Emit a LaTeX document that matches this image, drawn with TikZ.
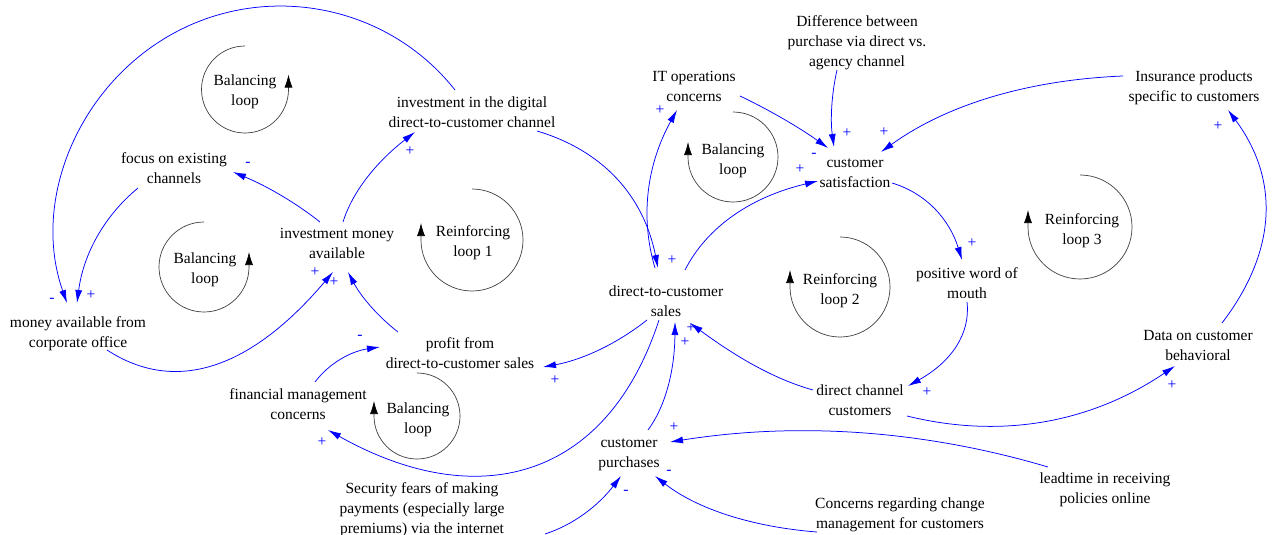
\documentclass[tikz,border=0pt]{standalone}
\usepackage{fontspec}
\setmainfont{Liberation Serif}
\usetikzlibrary{arrows.meta,calc}
\begin{document}
\begin{tikzpicture}[x=1pt,y=-1pt,
  txt/.style={align=center,inner sep=0pt,yshift=-2pt,font=\fontsize{15.5}{20}\selectfont,
    execute at begin node={\rule{0pt}{21pt}},execute at end node={\rule[-3pt]{0pt}{3pt}}},
  sgn/.style={text=blue,inner sep=0pt,font=\fontsize{15.5}{20}\selectfont},
  link/.style={draw=blue,line width=0.75pt,-{Latex[length=13pt,width=7pt]}},
  loopc/.style={draw=black!75,line width=0.7pt,-{Latex[length=13pt,width=8pt,color=black]}}]
\fill[white] (0,0) rectangle (1276,535);
\useasboundingbox (0,0) rectangle (1276,535);

% variables
\node[txt] (focus) at (174,168) {focus on existing\\channels};
\node[txt] (imoney) at (337,243) {investment money\\available};
\node[txt] (invest) at (472,112) {investment in the digital\\direct-to-customer channel};
\node[txt] (money) at (78,332) {money available from\\corporate office};
\node[txt] (profit) at (460,353) {profit from\\direct-to-customer sales};
\node[txt] (fin) at (298,404) {financial management\\concerns};
\node[txt] (sales) at (666,301) {direct-to-customer\\sales};
\node[txt] (itops) at (694,86) {IT operations\\concerns};
\node[txt] (diff) at (857,41) {Difference between\\purchase via direct vs.\\agency channel};
\node[txt] (csat) at (855,173) {customer\\satisfaction};
\node[txt] (insur) at (1194,86) {Insurance products\\specific to customers};
\node[txt] (wom) at (967,283) {positive word of\\mouth};
\node[txt] (dcc) at (860,400) {direct channel\\customers};
\node[txt] (data) at (1198,345) {Data on customer\\behavioral};
\node[txt] (purch) at (629,453) {customer\\purchases};
\node[txt] (secur) at (422,508) {Security fears of making\\payments (especially large\\premiums) via the internet};
\node[txt] (change) at (900,513) {Concerns regarding change\\management for customers};
\node[txt] (lead) at (1105,488) {leadtime in receiving\\policies online};

% loop labels
\node[txt] (bl1) at (245,90) {Balancing\\loop};
\node[txt] (bl2) at (205,268) {Balancing\\loop};
\node[txt] (r1) at (473,241) {Reinforcing\\loop 1};
\node[txt] (bl3) at (418,418) {Balancing\\loop};
\node[txt] (bl4) at (733,159) {Balancing\\loop};
\node[txt] (r2) at (840,289) {Reinforcing\\loop 2};
\node[txt] (r3) at (1082,229) {Reinforcing\\loop 3};

% loop circles
\draw[loopc] (245,46) arc[start angle=90,end angle=360,radius=43.5pt] -- ++(0,-15);
\draw[loopc] (204,222) arc[start angle=90,end angle=360,radius=45pt] -- ++(0,-15);
\draw[loopc] (472,189) arc[start angle=90,end angle=-180,radius=51pt] -- ++(0,-17);
\draw[loopc] (417,373) arc[start angle=90,end angle=-180,radius=43pt] -- ++(0,-15);
\draw[loopc] (733,112) arc[start angle=90,end angle=-180,radius=45pt] -- ++(0,-15);
\draw[loopc] (840,237) arc[start angle=90,end angle=-180,radius=50pt] -- ++(0,-17);
\draw[loopc] (1080,175) arc[start angle=90,end angle=-180,radius=52pt] -- ++(0,-17);

% connectors
\draw[link] ($(invest.center)+(65,17)$) .. controls (603.3,150.7) and (643.7,196.3) .. ($(sales.center)+(-8,-35)$);
\draw[link] ($(invest.center)+(-17,-24)$) .. controls (387.9,5) and (267.6,-18.6) .. (172.8,33.7) .. controls (78,86) and (31,201) .. ($(money.center)+(-11,-31)$);
\draw[link] ($(focus.center)+(-36,18)$) .. controls (103.7,216.3) and (83.3,254.7) .. ($(money.center)+(-1,-31)$);
\draw[link] ($(imoney.center)+(-17,-23)$) .. controls (295.7,202.7) and (266.7,186) .. ($(focus.center)+(59,2)$);
\draw[link] ($(imoney.center)+(6,-23)$) .. controls (352.3,192) and (376.3,162) .. ($(invest.center)+(-57,18)$);
\draw[link] ($(money.center)+(29,16)$) .. controls (175.7,394.7) and (251,368.7) .. ($(imoney.center)+(-4,27)$);
\draw[link] ($(profit.center)+(-62,-23)$) .. controls (377.3,316) and (360.7,296) .. ($(imoney.center)+(11,27)$);
\draw[link] ($(fin.center)+(17,-24)$) .. controls (329.3,363) and (351,351.3) .. ($(profit.center)+(-80,-8)$);
\draw[link] ($(sales.center)+(-19,17)$) .. controls (616.3,344.3) and (581.7,360) .. ($(profit.center)+(83,12)$);
\draw[link] ($(sales.center)+(-7,17)$) .. controls (606.3,481.5) and (475.9,513.3) .. ($(fin.center)+(30,24)$);
\draw[link] ($(sales.center)+(-11,-35)$) .. controls (639.7,216.7) and (647,164) .. ($(itops.center)+(-17,22)$);
\draw[link] ($(sales.center)+(19,-33)$) .. controls (707.3,226.3) and (751.7,196.7) .. ($(csat.center)+(-37,6)$);
\draw[link] ($(itops.center)+(46,8)$) .. controls (770.7,110.7) and (800,128) .. ($(csat.center)+(-27,-27)$);
\draw[link] ($(diff.center)+(-20,27)$) .. controls (831.3,95) and (830.3,120.7) .. ($(csat.center)+(-21,-28)$);
\draw[link] ($(insur.center)+(-71,-12)$) .. controls (1026.3,80) and (945.7,105.3) .. ($(csat.center)+(26,-23)$);
\draw[link] ($(csat.center)+(37,8)$) .. controls (926,193.3) and (949.3,219) .. ($(wom.center)+(-5,-25)$);
\draw[link] ($(wom.center)+(0,17)$) .. controls (970.7,334) and (951,362) .. ($(dcc.center)+(48,-16)$);
\draw[link] ($(dcc.center)+(-47,-12)$) .. controls (773.7,379) and (736,356.7) .. ($(sales.center)+(24,20)$);
\draw[link] ($(purch.center)+(19,-25)$) .. controls (665.7,406) and (674.7,370) .. ($(sales.center)+(9,19)$);
\draw[link] ($(dcc.center)+(47,14)$) .. controls (1001.7,439.3) and (1091,422.7) .. ($(data.center)+(-23,19)$);
\draw[link] ($(data.center)+(24,-24)$) .. controls (1277.3,250.7) and (1279.3,179) .. ($(insur.center)+(34,22)$);
\draw[link] ($(lead.center)+(-57,-23)$) .. controls (923.3,430) and (797.3,421.7) .. ($(purch.center)+(41,-13)$);
\draw[link] ($(change.center)+(-83,17)$) .. controls (749.7,526.7) and (695.7,508) .. ($(purch.center)+(26,21)$);
\draw[link] ($(secur.center)+(123,24)$) .. controls (573,525) and (598.3,505.7) .. ($(purch.center)+(-8,21)$);

% polarity signs
\node[sgn] (s1) at (672,260) {+};
\node[sgn] (s2) at (52,300) {-};
\node[sgn] (s3) at (91,295) {+};
\node[sgn] (s4) at (248,164) {-};
\node[sgn] (s5) at (410,151) {+};
\node[sgn] (s6) at (315,272) {+};
\node[sgn] (s7) at (334,282) {+};
\node[sgn] (s8) at (360,337) {-};
\node[sgn] (s9) at (555,380) {+};
\node[sgn] (s10) at (322,442) {+};
\node[sgn] (s11) at (660,110) {+};
\node[sgn] (s12) at (800,169) {+};
\node[sgn] (s13) at (814,155) {-};
\node[sgn] (s14) at (847,133) {+};
\node[sgn] (s15) at (884,132) {+};
\node[sgn] (s16) at (972,243) {+};
\node[sgn] (s17) at (927,392) {+};
\node[sgn] (s18) at (691,328) {+};
\node[sgn] (s19) at (685,342) {+};
\node[sgn] (s20) at (1172,385) {+};
\node[sgn] (s21) at (1218,126) {+};
\node[sgn] (s22) at (674,427) {+};
\node[sgn] (s23) at (669,472) {-};
\node[sgn] (s24) at (626,492) {-};
\end{tikzpicture}
\end{document}
